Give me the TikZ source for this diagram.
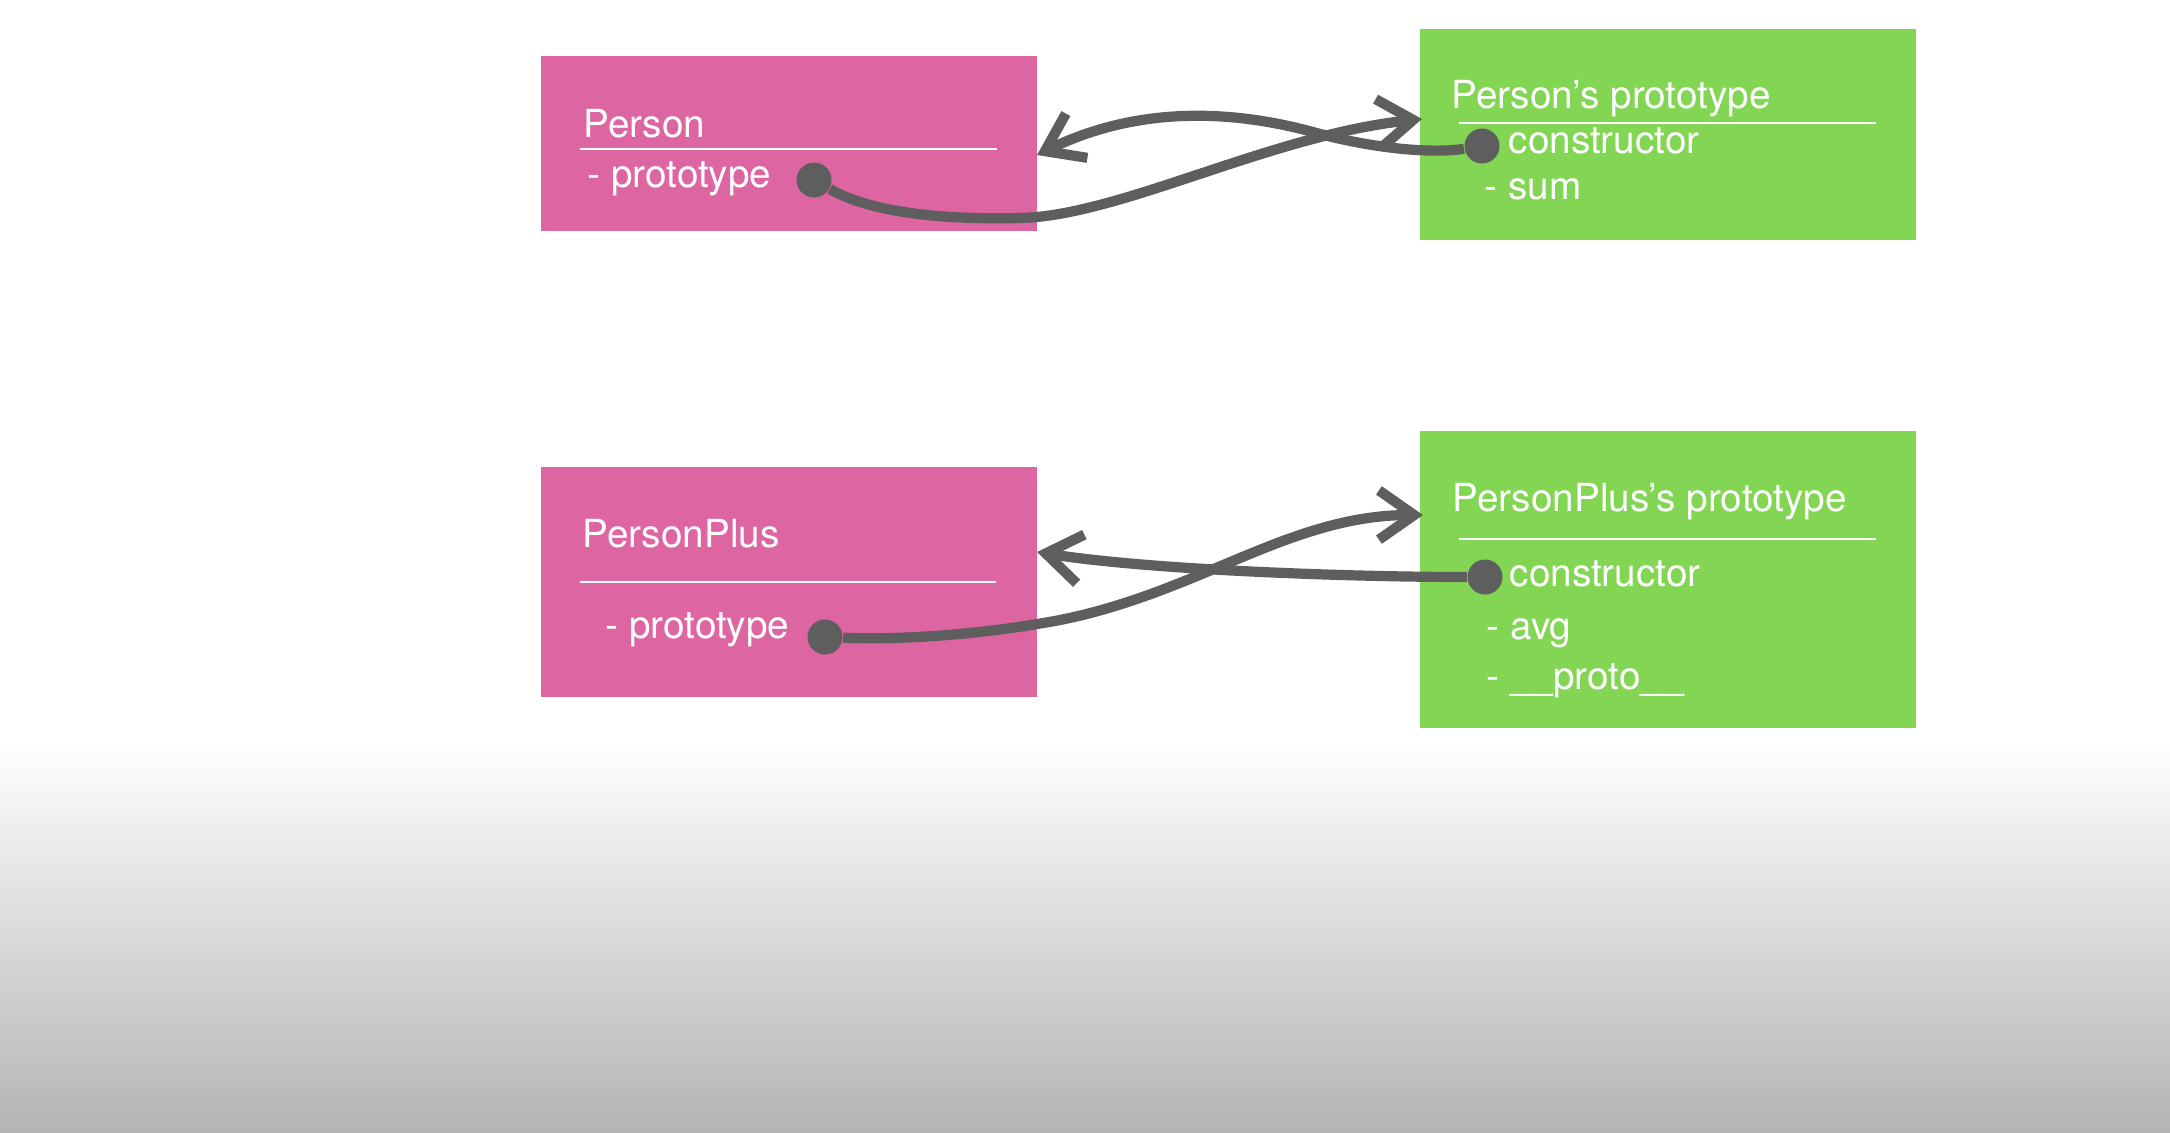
\documentclass[tikz,border=0pt]{standalone}
\usepackage{fontspec}
\setmainfont{TeX Gyre Heros}
\usetikzlibrary{arrows.meta}
\definecolor{boxpink}{RGB}{221,102,162}
\definecolor{boxgreen}{RGB}{131,213,84}
\definecolor{linkgray}{RGB}{94,94,94}
\definecolor{floorgray}{RGB}{180,180,180}
\tikzset{
    classbox/.style={fill=boxpink, inner sep=0pt, anchor=north west, minimum width=4.96cm},
    protobox/.style={fill=boxgreen, inner sep=0pt, anchor=north west, minimum width=4.96cm},
    boxtext/.style={text=white, inner sep=0pt, anchor=base west, font=\fontsize{11pt}{13pt}\selectfont},
    rule/.style={white, line width=0.6pt},
    slotdot/.style={circle, fill=linkgray, inner sep=0pt, minimum size=0.35cm},
    link/.style={draw=linkgray, line width=2.9pt, -{Straight Barb[length=10pt, width=14pt, sharp]}}
}
\begin{document}
\begin{tikzpicture}[x=0.01cm, y=-0.01cm]
    \useasboundingbox (0, 0) rectangle (2170, 1132);
    \fill[white] (0, 0) rectangle (2170, 740);
    \shade[top color=white, bottom color=floorgray] (0, 740) rectangle (2170, 1132);

    \node[classbox, minimum height=1.75cm](person) at (540, 55) {};
    \node[protobox, minimum height=2.11cm](pproto) at (1419, 28) {};
    \node[classbox, minimum height=2.30cm](plus) at (540, 466) {};
    \node[protobox, minimum height=2.97cm](plproto) at (1419, 430) {};

    \node[boxtext](personname) at (583, 137) {Person};
    \draw[rule] (580, 149) -- (997, 149);
    \node[boxtext](personslot) at (587, 187) {- prototype};

    \node[boxtext](pprotoname) at (1451, 108) {Person’s prototype};
    \draw[rule] (1459, 123) -- (1876, 123);
    \node[boxtext](pprotoctor) at (1508, 153) {constructor};
    \node[boxtext](pprotosum) at (1484, 199) {- sum};

    \node[boxtext](plusname) at (582, 547) {PersonPlus};
    \draw[rule] (580, 582) -- (996, 582);
    \node[boxtext](plusslot) at (605, 638) {- prototype};

    \node[boxtext](plprotoname) at (1452, 511) {PersonPlus’s prototype};
    \draw[rule] (1459, 539) -- (1876, 539);
    \node[boxtext](plprotoctor) at (1509, 586) {constructor};
    \node[boxtext](plprotoavg) at (1486, 639) {- avg};
    \node[boxtext](plprotoproto) at (1486, 689) {- \_\_proto\_\_};

    \node[slotdot](persondot) at (814, 180) {};
    \node[slotdot](pprotodot) at (1482, 146) {};
    \node[slotdot](plusdot) at (825, 637) {};
    \node[slotdot](plprotodot) at (1485, 577) {};

    \coordinate(pprotoin) at (1422, 119);
    \coordinate(personin) at (1037, 155);
    \coordinate(plprotoin) at (1423, 515);
    \coordinate(plusin) at (1037, 552);

    \draw[link] (persondot) .. controls (870, 212) and (940, 220) .. (1020, 218)
        .. controls (1120, 216) and (1270, 135) .. (pprotoin);
    \draw[link] (pprotodot) .. controls (1430, 154) and (1370, 148) .. (1313, 132)
        .. controls (1250, 115) and (1150, 100) .. (personin);
    \draw[link] (plusdot) .. controls (900, 640) and (980, 635) .. (1060, 620)
        .. controls (1200, 592) and (1290, 515) .. (plprotoin);
    \draw[link] (plprotodot) .. controls (1350, 577) and (1150, 570) .. (plusin);
\end{tikzpicture}
\end{document}
